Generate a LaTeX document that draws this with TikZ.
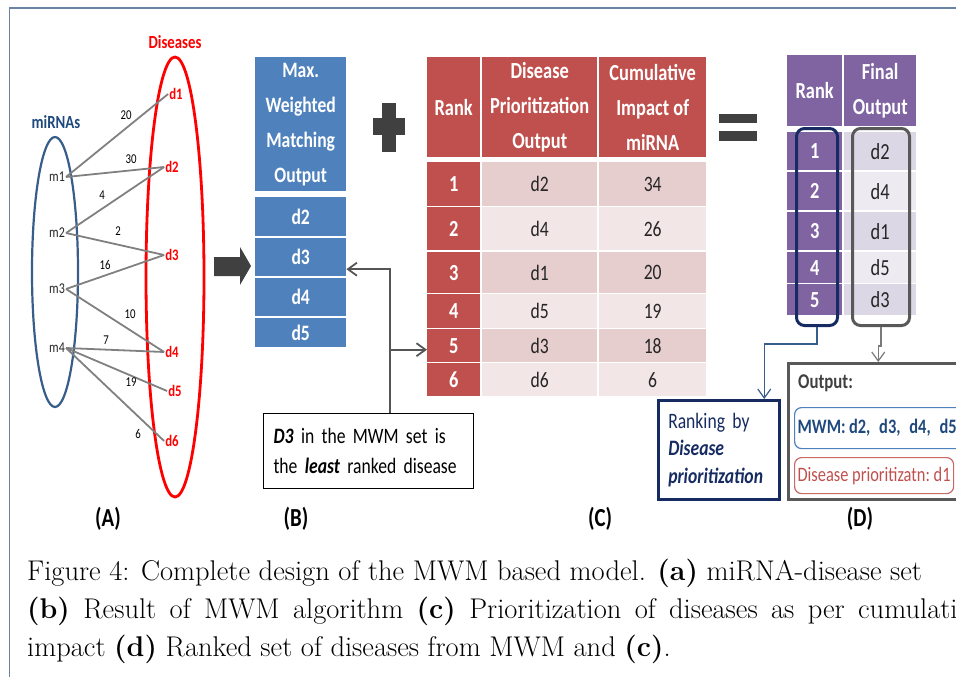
\documentclass[tikz,border=0pt]{standalone}
\usepackage{fontspec}
\newfontfamily\calfont[FakeStretch=0.8]{Carlito}
\usepackage{tikz}
\usetikzlibrary{arrows.meta, positioning, calc}

\definecolor{framecol}{RGB}{104,131,163}
\definecolor{mirblue}{RGB}{56,93,138}
\definecolor{mirtext}{RGB}{31,73,125}
\definecolor{edgegray}{RGB}{128,128,128}
\definecolor{symgray}{RGB}{64,64,64}
\definecolor{mwmblue}{RGB}{79,129,189}
\definecolor{prired}{RGB}{192,80,77}
\definecolor{pinkA}{RGB}{231,206,206}
\definecolor{pinkB}{RGB}{242,230,230}
\definecolor{finpurple}{RGB}{128,100,162}
\definecolor{lilacA}{RGB}{220,215,229}
\definecolor{lilacB}{RGB}{237,234,242}
\definecolor{rankNavy}{RGB}{22,43,97}
\definecolor{outgray}{RGB}{89,89,89}
\definecolor{notegray}{RGB}{85,85,85}

\newcommand\figfont[2]{\calfont\fontsize{#1}{#2}\selectfont}

\tikzset{
  mirna/.style={font=\figfont{15}{18}, text=black!85, inner sep=1pt},
  disease/.style={font=\figfont{16}{18}\bfseries, text=red, inner sep=1pt},
  weight/.style={font=\figfont{13.5}{16}, inner sep=0pt},
  link/.style={edgegray, line width=1.8pt},
  cell/.style={anchor=north west, inner sep=0pt, align=center},
  mwmcell/.style={cell, fill=mwmblue, text=white, minimum width=91, font=\figfont{22}{35}\bfseries},
  prihead/.style={cell, fill=prired, text=white, font=\figfont{23}{35}\bfseries},
  crank/.style={cell, fill=prired, text=white, minimum width=53, font=\figfont{23}{28}\bfseries},
  cbody/.style={cell, text=black!85, minimum width=115, font=\figfont{22}{26}},
  fincell/.style={cell, fill=finpurple, text=white, font=\figfont{23}{35}\bfseries},
  pointer/.style={-{Straight Barb[length=9pt,width=13pt]}},
  captext/.style={anchor=base west, inner sep=0pt, font=\fontsize{28.5}{38}\selectfont},
}

\begin{document}
\begin{tikzpicture}[x=1pt, y=-1pt]
  \useasboundingbox (0,0) rectangle (956,677);
  \clip (0,0) rectangle (956,677);

  \draw[framecol, line width=1.5pt] (9.5,677) -- (9.5,8) -- (956,8);

  % (A) miRNA-disease set
  \draw[mirblue, line width=2.2pt] (55,272) ellipse [x radius=23pt, y radius=135pt];
  \draw[red, line width=2.8pt] (175,277) ellipse [x radius=29pt, y radius=220pt];
  \node[font=\figfont{18.5}{20}\bfseries, text=mirtext] (mirlab) at (56,122) {miRNAs};
  \node[font=\figfont{18.5}{20}\bfseries, text=red] (dislab) at (175,42) {Diseases};

  \foreach \mi/\y in {1/177, 2/233, 3/289, 4/348}
    \node[mirna] (m\mi) at (57,\y) {m\mi};
  \foreach \di/\x/\y in {1/176/94, 2/172/167, 3/172/255, 4/172/352, 5/175/391, 6/172/441}
    \node[disease] (d\di) at (\x,\y) {d\di};

  \foreach \a/\b in {1/1, 1/2, 2/2, 2/3, 3/3, 3/4, 4/4, 4/5, 4/6}
    \draw[link] (m\a.east) -- (d\b.west);

  \foreach \wt/\x/\y in {20/126/115, 30/131/159, 4/102/195, 2/118/231, 16/105/265,
                         10/130/314, 7/106/340, 19/131/382, 6/138/434}
    \node[weight] (w\wt) at (\x,\y) {\wt};

  \fill[symgray] (214,257) -- (240,257) -- (240,247) -- (251,266) -- (240,285)
    -- (240,276) -- (214,276) -- cycle;

  % (B) MWM output
  \node[mwmcell, minimum height=134] (mwm-head) at (255,57) {Max.\\Weighted\\Matching\\Output};
  \foreach \di/\ya/\hh in {d2/197/39, d3/238/38, d4/278/38, d5/318/29}
    \node[mwmcell, minimum height=\hh] (mwm-\di) at (255,\ya) {\di};

  \fill[symgray] (382,103) rectangle (396,152);
  \fill[symgray] (373,118) rectangle (405,135);

  % (C) prioritization table
  \node[prihead, minimum width=53, minimum height=100] (c-h1) at (427,57) {Rank};
  \node[prihead, minimum width=115, minimum height=100] (c-h2) at (482,57) {Disease\\Prioritization\\Output};
  \node[prihead, minimum width=107, minimum height=100] (c-h3) at (599,57) {Cumulative\\Impact of\\miRNA};
  \foreach \rk/\ya/\hh/\di/\val/\bg in {1/162/44/d2/34/pinkA, 2/207/43/d4/26/pinkB,
      3/252/41/d1/20/pinkA, 4/294/34/d5/19/pinkB, 5/329/33/d3/18/pinkA, 6/363/33/d6/6/pinkB}{
    \node[crank, minimum height=\hh] (c-r\rk) at (427,\ya) {\rk};
    \node[cbody, fill=\bg, minimum height=\hh] (c-d\rk) at (482,\ya) {\di};
    \node[cbody, fill=\bg, minimum width=107, minimum height=\hh] (c-v\rk) at (599,\ya) {\val};
  }

  \fill[symgray] (719,114) rectangle (757,123);
  \fill[symgray] (719,131) rectangle (757,141);

  % (D) final output
  \node[fincell, minimum width=55, minimum height=71] (f-h1) at (787,55) {Rank};
  \node[fincell, minimum width=72, minimum height=71] (f-h2) at (844,55) {Final\\Output};
  \foreach \rk/\ya/\hh/\di/\bg in {1/132/38/d2/lilacA, 2/172/38/d4/lilacB, 3/212/38/d1/lilacA,
      4/252/31/d5/lilacB, 5/284/31/d3/lilacA}{
    \node[fincell, minimum width=55, minimum height=\hh, font=\figfont{23}{28}\bfseries] (f-r\rk) at (787,\ya) {\rk};
    \node[cell, fill=\bg, text=black!85, minimum width=72, minimum height=\hh, font=\figfont{23}{28}] (f-d\rk) at (844,\ya) {\di};
  }
  \node[cell, draw=rankNavy, line width=3pt, rounded corners=8pt, minimum width=41, minimum height=197] (rankbox) at (795,127) {};
  \node[cell, draw=outgray, line width=3pt, rounded corners=8pt, minimum width=57, minimum height=197] (finalbox) at (851,127) {};

  \node[cell, draw=rankNavy, line width=2.5pt, minimum width=121, minimum height=99, text width=101pt,
    inner xsep=10pt, align=left, text=rankNavy, font=\figfont{22}{27.5}] (rankby) at (657,399)
    {Ranking by\\\textbf{\textit{Disease}}\\\textbf{\textit{prioritization}}};

  \node[cell, draw=outgray, line width=2.5pt, minimum width=193, minimum height=136] (outbox) at (787,362) {};
  \node[anchor=west, inner sep=0pt, text=black!75, font=\figfont{21}{25}\bfseries] (outlab) at (798,383) {Output:};
  \node[cell, draw=mwmblue, line width=1.2pt, rounded corners=7pt, minimum height=41, text width=250pt,
    inner xsep=3pt, align=left, text=mirtext, font=\figfont{20.5}{26}\bfseries] (mwmres) at (794,407)
    {MWM:\,d2,\hspace{2pt} d3,\hspace{2pt} d4,\hspace{2pt} d5};
  \node[cell, draw=prired!85, line width=1.2pt, rounded corners=7pt, minimum width=159, minimum height=36,
    text=prired, font=\figfont{20.5}{24}] (prires) at (794,457) {Disease prioritizatn:\ d1};

  \draw[mirblue, line width=1.2pt, pointer] (rankbox.south) -- ++(0,17) -| ([xshift=45.5pt]rankby.north);
  \draw[outgray!80, line width=1.2pt, pointer] (finalbox.south) -- ++(0,19) -| ([xshift=-6.5pt]outbox.north);

  % note on d3
  \node[cell, draw, line width=1.2pt, minimum height=75, text width=190pt, inner xsep=10pt,
    align=left, font=\figfont{22}{30}] (note) at (263,413)
    {\textbf{\textit{D3}} in the MWM set is\\the \textbf{\textit{least}} ranked disease};
  \draw[notegray, line width=1.8pt, pointer] ([xshift=21pt]note.north) |- ([yshift=-12pt]mwm-d3.east);
  \draw[notegray, line width=1.8pt, pointer] ([xshift=21pt]note.north) |- ([yshift=-4pt]c-r5.west);

  \foreach \p/\x in {A/108, B/296, C/600, D/860}
    \node[font=\figfont{26}{30}\bfseries] (lab\p) at (\x,519) {(\p)};

  % caption
  \node[captext] (capA) at (27,580)
    {Figure 4: Complete design of the MWM based model. \textbf{(a)} miRNA-disease set};
  \node[captext] (capB) at (27,618)
    {\makebox[955pt][s]{\textbf{(b)} Result of MWM algorithm \textbf{(c)} Prioritization of diseases as per cumulative}};
  \node[captext] (capC) at (27,656)
    {impact \textbf{(d)} Ranked set of diseases from MWM and \textbf{(c)}.};
\end{tikzpicture}
\end{document}
